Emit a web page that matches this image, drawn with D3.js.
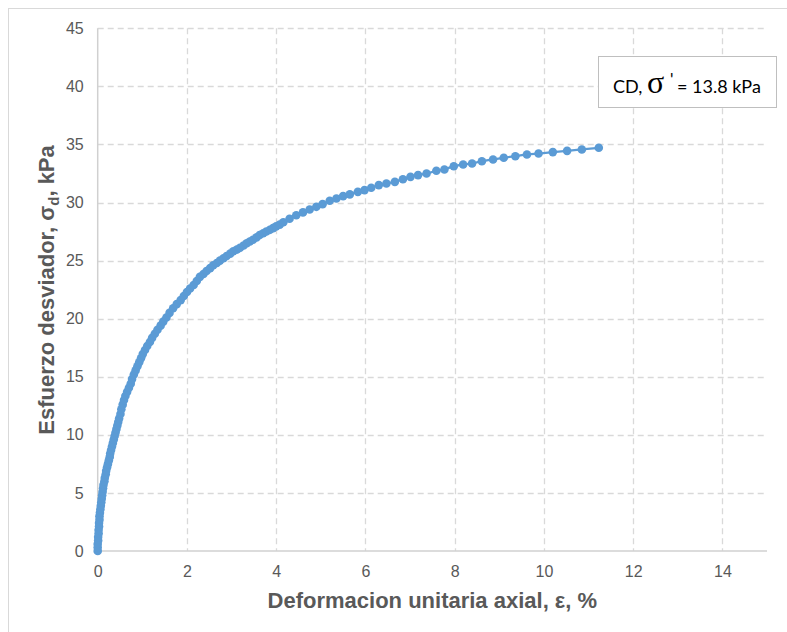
<!DOCTYPE html>
<html>
<head>
<meta charset="utf-8">
<script src="https://cdn.jsdelivr.net/npm/d3@7"></script>
<style>
  html, body { margin: 0; padding: 0; background: #ffffff; }
  svg { display: block; }
</style>
</head>
<body>
<svg id="chart" width="787" height="632"></svg>
<script>
// ---- data ----
const strain = [
  0.00,0.00,0.00,0.01,0.01,0.02,0.02,0.03,0.03,0.04,0.04,0.05,0.06,0.07,0.08,0.09,0.10,0.11,0.12,0.13,
  0.15,0.16,0.18,0.19,0.21,0.23,0.25,0.27,0.28,0.30,0.32,0.34,0.36,0.38,0.40,0.42,0.44,0.46,0.48,
  0.51,0.53,0.56,0.59,0.62,0.66,0.70,0.74,0.77,0.81,0.85,0.89,0.93,0.97,1.01,1.06,1.11,1.17,1.22,1.28,
  1.34,1.41,1.47,1.54,1.61,1.69,1.77,1.86,1.93,2.00,2.07,2.15,2.22,2.29,2.37,2.44,2.52,2.59,2.67,2.74,
  2.82,2.89,2.97,3.04,3.12,3.19,3.27,3.34,3.41,3.48,3.56,3.63,3.71,3.78,3.86,3.93,4.00,4.08,
  4.16,4.30,4.45,4.60,4.75,4.90,5.04,5.20,5.35,5.50,5.65,5.83,5.98,6.13,6.30,6.47,6.66,6.84,7.01,7.18,
  7.37,7.59,7.77,7.98,8.19,8.39,8.61,8.86,9.10,9.36,9.62,9.88,10.20,10.52,10.85,11.23
];
const stress = [
  0.0,0.3,0.6,0.9,1.2,1.5,1.8,2.1,2.4,2.7,3.0,3.3,3.6,3.9,4.2,4.5,4.8,5.1,5.4,5.7,
  6.0,6.3,6.6,6.9,7.2,7.5,7.8,8.1,8.4,8.7,9.0,9.3,9.6,9.9,10.2,10.5,10.8,11.1,11.4,
  11.8,12.2,12.6,13.0,13.35,13.7,14.05,14.4,14.8,15.2,15.55,15.9,16.25,16.6,16.95,17.3,17.65,18.0,18.35,18.7,
  19.05,19.4,19.75,20.1,20.5,20.9,21.25,21.6,21.95,22.3,22.6,22.9,23.25,23.6,23.85,24.1,24.35,24.6,24.8,25.0,
  25.2,25.4,25.6,25.8,25.95,26.1,26.3,26.5,26.65,26.8,27.0,27.2,27.35,27.5,27.65,27.8,27.95,28.1,
  28.3,28.6,28.9,29.15,29.4,29.63,29.86,30.15,30.35,30.55,30.7,30.92,31.07,31.27,31.5,31.64,31.78,32.01,32.21,32.36,
  32.5,32.73,32.85,33.13,33.28,33.36,33.56,33.71,33.85,33.99,34.14,34.22,34.34,34.45,34.57,34.71
];
const xTicks = [0, 2, 4, 6, 8, 10, 12, 14];
const yTicks = [0, 5, 10, 15, 20, 25, 30, 35, 40, 45];
const xDomain = [0, 15];
const yDomain = [0, 45];
const xTitle = "Deformacion unitaria axial, ε, %";
const legendLabel = { pre: "CD,", sym: "σ", prime: "'", post: "= 13.8 kPa" };

const points = strain.map((s, i) => ({ x: s, y: stress[i] }));

// ---- layout ----
const svg = d3.select("#chart");
const pL = 97.7, pR = 767, pT = 28.3, pB = 551;
const x = d3.scaleLinear().domain(xDomain).range([pL, pR]);
const y = d3.scaleLinear().domain(yDomain).range([pB, pT]);
const grey = "#595959";
const blue = "#5b9bd5";

// outer chart border (cropped on right/bottom in reference)
svg.append("rect").attr("x", 8.5).attr("y", 8.5).attr("width", 800).attr("height", 640)
  .attr("fill", "#fff").attr("stroke", "#d9d9d9").attr("stroke-width", 1);

// gridlines
const grid = svg.append("g");
grid.selectAll("line.h").data(yTicks.filter(d => d > 0)).join("line")
  .attr("x1", pL).attr("x2", pR)
  .attr("y1", d => Math.round(y(d)) + 0.5).attr("y2", d => Math.round(y(d)) + 0.5)
  .attr("stroke", "#d9d9d9").attr("stroke-width", 1.3).attr("stroke-dasharray", "6,4");
grid.selectAll("line.v").data(xTicks.filter(d => d > 0)).join("line")
  .attr("y1", pT).attr("y2", pB)
  .attr("x1", d => Math.round(x(d)) + 0.5).attr("x2", d => Math.round(x(d)) + 0.5)
  .attr("stroke", "#d9d9d9").attr("stroke-width", 1.3).attr("stroke-dasharray", "6,4");

// axes
const xAxis = d3.axisBottom(x).tickValues(xTicks).tickSize(0).tickPadding(15).tickFormat(d3.format("d"));
const yAxis = d3.axisLeft(y).tickValues(yTicks).tickSize(0).tickPadding(14).tickFormat(d3.format("d"));
const gx = svg.append("g").attr("transform", `translate(0,${pB})`).call(xAxis);
const gy = svg.append("g").attr("transform", `translate(${pL},0)`).call(yAxis);
[gx, gy].forEach(g => {
  g.select(".domain").attr("stroke", "#d0d0d0").attr("stroke-width", 1.5);
  g.selectAll("text").attr("font-family", "'Liberation Sans', Arial, sans-serif")
    .attr("font-size", 16).attr("fill", grey);
});
gy.select(".domain").attr("d", `M0,${pT}V${pB}`);
gx.select(".domain").attr("d", `M${pL},0H${pR}`);

// series
svg.append("path").datum(points)
  .attr("fill", "none").attr("stroke", blue).attr("stroke-width", 2.25)
  .attr("d", d3.line().x(d => x(d.x)).y(d => y(d.y)));
svg.append("g").selectAll("circle").data(points).join("circle")
  .attr("cx", d => x(d.x)).attr("cy", d => y(d.y)).attr("r", 4.3).attr("fill", blue);

// axis titles
svg.append("text")
  .attr("x", (pL + pR) / 2).attr("y", 608)
  .attr("text-anchor", "middle")
  .attr("font-family", "'Liberation Sans', Arial, sans-serif")
  .attr("font-weight", "bold").attr("font-size", 22).attr("fill", grey)
  .text(xTitle);

const yt = svg.append("text")
  .attr("transform", `translate(54,290) rotate(-90)`)
  .attr("text-anchor", "middle")
  .attr("font-family", "'Liberation Sans', Arial, sans-serif")
  .attr("font-weight", "bold").attr("font-size", 22).attr("fill", grey);
yt.append("tspan").text("Esfuerzo desviador, σ");
yt.append("tspan").attr("font-size", 15).attr("dy", 5).text("d");
yt.append("tspan").attr("dy", -5).text(", kPa");

// legend / annotation box
svg.append("rect").attr("x", 598.5).attr("y", 56.5).attr("width", 178).attr("height", 51)
  .attr("fill", "#fff").attr("stroke", "#bfbfbf").attr("stroke-width", 1);
const lt = svg.append("text").attr("y", 93).attr("fill", "#000")
  .attr("font-family", "Lato, 'Open Sans', sans-serif").attr("font-size", 18);
lt.append("tspan").attr("x", 613).text(legendLabel.pre);
lt.append("tspan").attr("x", 647).attr("font-family", "'Liberation Serif', serif").attr("font-size", 32).text(legendLabel.sym);
lt.append("tspan").attr("x", 670).attr("y", 86).attr("font-size", 17).text(legendLabel.prime);
lt.append("tspan").attr("x", 677).attr("y", 93).text(legendLabel.post);
</script>
</body>
</html>
